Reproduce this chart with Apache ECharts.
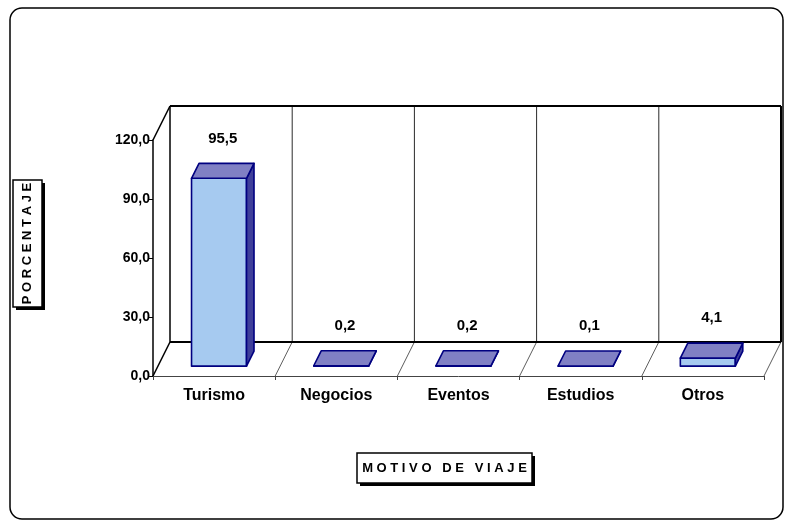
<!DOCTYPE html>
<html>
<head>
<meta charset="utf-8">
<script src="https://cdn.jsdelivr.net/npm/echarts@6/dist/echarts.min.js"></script>
<style>
html,body{margin:0;padding:0;background:#fff;}
#chart{width:789px;height:525px;}
</style>
</head>
<body>
<div id="chart"></div>
<script>
const categories = ['Turismo', 'Negocios', 'Eventos', 'Estudios', 'Otros'];
const values = [95.5, 0.2, 0.2, 0.1, 4.1];
const yTicks = [0, 30, 60, 90, 120];
const yTitle = 'P O R C E N T A J E';
const xTitle = 'M O T I V O   D E   V I A J E';

const FONT = '"Liberation Sans", Arial, sans-serif';
const DX = 17, DY = -34;           // depth offset of the 3D box
const F = 0.29, B = 0.73, WR = 0.45; // bar depth start/end and width ratio
const fmt = v => v.toFixed(1).replace('.', ',');

const chart = echarts.init(document.getElementById('chart'));

function renderWalls(params, api) {
  const cs = params.coordSys;
  const x = cs.x, y = cs.y, w = cs.width, h = cs.height;
  const bw = api.size([1, 0])[0];
  const n = categories.length;
  const ch = [];
  const line = (x1, y1, x2, y2, color, lw) => ch.push({
    type: 'line', shape: {x1, y1, x2, y2},
    style: {stroke: color, lineWidth: lw}
  });
  for (let k = 1; k < n; k++) {
    line(x + DX + k * bw, y + DY, x + DX + k * bw, y + h + DY, '#2a2a2a', 1);
  }
  for (let k = 1; k <= n; k++) {
    line(x + k * bw, y + h, x + k * bw + DX, y + h + DY, '#333', 0.8);
  }
  line(x + DX, y + DY, x + w + DX, y + DY, '#000', 2);
  line(x + DX, y + DY, x + DX, y + h + DY, '#000', 1.5);
  line(x + w + DX, y + DY, x + w + DX, y + h + DY, '#000', 2);
  line(x + DX, y + h + DY, x + w + DX, y + h + DY, '#000', 2);
  line(x, y, x + DX, y + DY, '#000', 1.5);
  line(x, y + h, x + DX, y + h + DY, '#000', 1.5);
  return {type: 'group', children: ch};
}

function renderBar(params, api) {
  const idx = api.value(0), v = api.value(1);
  const base = api.coord([idx, 0]);
  const bw = api.size([1, 0])[0];
  const hh = api.size([0, v])[1];
  const w = bw * WR;
  const fx0 = base[0] + F * DX - w / 2, fx1 = fx0 + w;
  const fyb = base[1] + F * DY, fyt = fyb - hh;
  const ddx = (B - F) * DX, ddy = (B - F) * DY;
  const stroke = '#000080';
  const st = (fill) => ({fill, stroke, lineWidth: 1.6, lineJoin: 'round'});
  return {
    type: 'group',
    children: [
      {type: 'polygon', shape: {points: [[fx0, fyt], [fx1, fyt], [fx1, fyb], [fx0, fyb]]}, style: st('#A6CAF0')},
      {type: 'polygon', shape: {points: [[fx1, fyt], [fx1, fyb], [fx1 + ddx, fyb + ddy], [fx1 + ddx, fyt + ddy]]}, style: st('#3F3F9A')},
      {type: 'polygon', shape: {points: [[fx0, fyt], [fx1, fyt], [fx1 + ddx, fyt + ddy], [fx0 + ddx, fyt + ddy]]}, style: st('#8080C4')},
      {type: 'text', style: {
        x: (fx0 + fx1) / 2 + ddx / 2, y: fyt + ddy - 25,
        text: fmt(v), fill: '#000', font: 'bold 15px ' + FONT,
        align: 'center', verticalAlign: 'middle'
      }}
    ]
  };
}

function titleBox(cx, cy, bwid, bhgt, text, rotate) {
  // shadow goes right/down on screen
  const sx = rotate ? -3 : 3, sy = 3;
  return {
    type: 'group', x: cx, y: cy, rotation: rotate ? Math.PI / 2 : 0,
    children: [
      {type: 'rect', shape: {x: -bwid / 2 + sx, y: -bhgt / 2 + sy, width: bwid, height: bhgt}, style: {fill: '#000'}},
      {type: 'rect', shape: {x: -bwid / 2, y: -bhgt / 2, width: bwid, height: bhgt}, style: {fill: '#fff', stroke: '#000', lineWidth: 1.5}},
      {type: 'text', style: {x: 0, y: 0, text, font: 'bold 13px ' + FONT, fill: '#000', align: 'center', verticalAlign: 'middle'}}
    ]
  };
}

chart.setOption({
  animation: false,
  backgroundColor: '#fff',
  grid: {left: 153, right: 25, top: 140, bottom: 149, containLabel: false},
  xAxis: {
    type: 'category', data: categories, boundaryGap: true,
    axisLine: {lineStyle: {color: '#444', width: 1}},
    axisTick: {show: true, length: 4, lineStyle: {color: '#444'}},
    axisLabel: {margin: 12, color: '#000', fontWeight: 'bold', fontSize: 16, fontFamily: FONT},
    splitLine: {show: false}
  },
  yAxis: {
    type: 'value', min: yTicks[0], max: yTicks[yTicks.length - 1], interval: yTicks[1] - yTicks[0],
    axisLine: {show: true, lineStyle: {color: '#000', width: 1.5}},
    axisTick: {show: true, length: 4, lineStyle: {color: '#000'}},
    axisLabel: {margin: 3, color: '#000', fontWeight: 'bold', fontSize: 14, fontFamily: FONT, formatter: fmt},
    splitLine: {show: false}
  },
  series: [
    {type: 'custom', z: 1, silent: true, clip: false, renderItem: renderWalls, data: [[0, 0]], encode: {x: 0, y: 1}},
    {type: 'custom', z: 3, clip: false, renderItem: renderBar, data: values.map((v, i) => [i, v]), encode: {x: 0, y: 1}}
  ],
  graphic: [
    {type: 'rect', z: 0, shape: {x: 10, y: 8, width: 773, height: 511, r: 12}, style: {fill: 'none', stroke: '#000', lineWidth: 1.5}},
    titleBox(27.5, 243.5, 127, 29, yTitle, true),
    titleBox(444.5, 468, 175, 30, xTitle, false)
  ]
});
</script>
</body>
</html>
